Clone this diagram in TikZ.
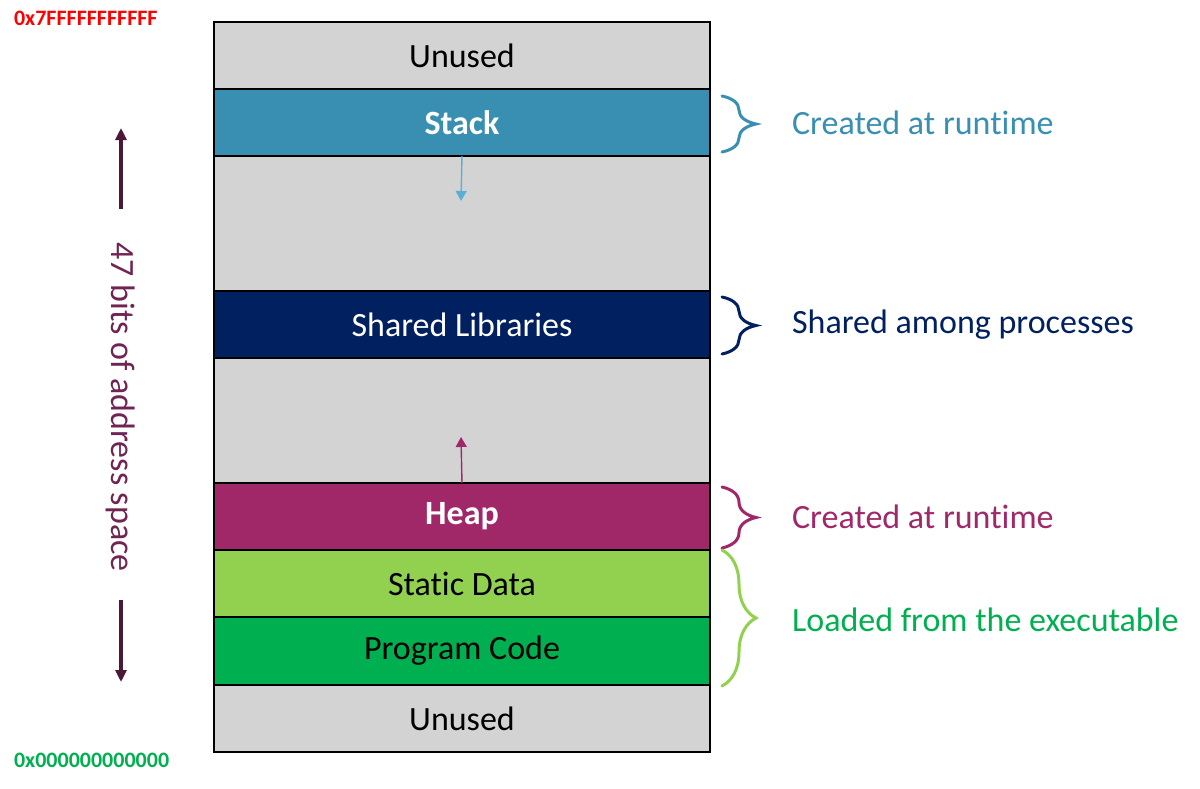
\documentclass[tikz,border=0pt]{standalone}
\usepackage{fontspec}
\setmainfont[Ligatures=NoCommon]{Carlito}
\usepackage{tikz}
\usetikzlibrary{arrows.meta}
\usetikzlibrary{positioning,decorations.pathreplacing}

\definecolor{unusedgray}{RGB}{211,211,211}
\definecolor{stackblue}{RGB}{56,143,178}
\definecolor{growblue}{RGB}{90,175,215}
\definecolor{sharednavy}{RGB}{0,32,96}
\definecolor{heapplum}{RGB}{160,40,105}
\definecolor{staticlime}{RGB}{146,208,80}
\definecolor{codegreen}{RGB}{0,176,80}
\definecolor{addrdark}{RGB}{75,25,55}
\definecolor{addrtext}{RGB}{112,36,84}

\begin{document}
\begin{tikzpicture}[x=0.5pt, y=-0.5pt,
    memrow/.style={draw=black, line width=1pt, minimum width=248pt,
        minimum height=33.5pt, inner sep=0pt, outer sep=0pt,
        font=\fontsize{17}{20}\selectfont},
    membrace/.style={decorate, decoration={brace, amplitude=17pt},
        line width=1.5pt, line cap=round},
    sidelabel/.style={anchor=west, font=\fontsize{17}{20}\selectfont},
    addrarrow/.style={draw=addrdark, line width=1.6pt, -{Triangle[length=6pt, width=5.5pt]}},
    growarrow/.style={line width=0.7pt, -{Triangle[length=5pt, width=5.5pt]}}]
    \useasboundingbox (0,0) rectangle (1200,788);

    \node[memrow, fill=unusedgray] (unusedtop) at (462,55.5) {Unused};
    \node[memrow, fill=stackblue, text=white, font=\bfseries\fontsize{17}{20}\selectfont,
        below=0pt of unusedtop] (stack) {Stack};
    \node[memrow, fill=unusedgray, minimum height=67.5pt, below=0pt of stack] (gapupper) {};
    \node[memrow, fill=sharednavy, text=white, below=0pt of gapupper] (shared) {Shared Libraries};
    \node[memrow, fill=unusedgray, minimum height=62.5pt, below=0pt of shared] (gaplower) {};
    \node[memrow, fill=heapplum, text=white, font=\bfseries\fontsize{17}{20}\selectfont,
        below=0pt of gaplower] (heap) {Heap};
    \node[memrow, fill=staticlime, below=0pt of heap] (static) {Static Data};
    \node[memrow, fill=codegreen, minimum height=34pt, below=0pt of static] (code) {Program Code};
    \node[memrow, fill=unusedgray, below=0pt of code] (unusedbot) {Unused};

    \coordinate (stackgrow) at (461,201);
    \coordinate (heapgrow) at (461,437);
    \draw[growarrow, draw=growblue, fill=growblue] (stack.south) -- (stackgrow);
    \draw[growarrow, draw=heapplum, fill=heapplum] (heap.north) -- (heapgrow);

    \draw[membrace, draw=stackblue] ([xshift=6pt, yshift=-3.5pt]stack.north east)
        -- ([xshift=6pt, yshift=2pt]stack.south east);
    \draw[membrace, draw=sharednavy] ([xshift=6pt, yshift=-3pt]shared.north east)
        -- ([xshift=6pt, yshift=2pt]shared.south east);
    \draw[membrace, draw=heapplum] ([xshift=6pt, yshift=-2pt]heap.north east)
        -- ([xshift=6pt, yshift=1pt]heap.south east);
    \draw[membrace, draw=staticlime] ([xshift=6pt]static.north east)
        -- ([xshift=6pt, yshift=-0.5pt]code.south east);

    \node[sidelabel, text=stackblue, right=37.5pt of stack] (stacklbl) {Created at runtime};
    \node[sidelabel, text=sharednavy, right=37.5pt of shared] (sharedlbl) {Shared among processes};
    \node[sidelabel, text=heapplum, right=37.5pt of heap] (heaplbl) {Created at runtime};
    \node[sidelabel, text=codegreen, right=37.5pt of static.south east, yshift=-1.5pt] (loadlbl)
        {Loaded from the executable};

    \node[text=addrtext, rotate=-90, font=\fontsize{17}{20}\selectfont] (addr) at (121,407)
        {47 bits of address space};
    \coordinate (uptail) at (121,209);
    \coordinate (uptip) at (121,128);
    \coordinate (downtail) at (121,600);
    \coordinate (downtip) at (121,682);
    \draw[addrarrow, fill=addrdark] (uptail) -- (uptip);
    \draw[addrarrow, fill=addrdark] (downtail) -- (downtip);

    \node[anchor=west, text=red, font=\bfseries\fontsize{11}{13}\selectfont] (topaddr) at (7,18)
        {0x7FFFFFFFFFFF};
    \node[anchor=west, text=codegreen, font=\bfseries\fontsize{11}{13}\selectfont] (botaddr) at (7,760)
        {0x000000000000};
\end{tikzpicture}
\end{document}
